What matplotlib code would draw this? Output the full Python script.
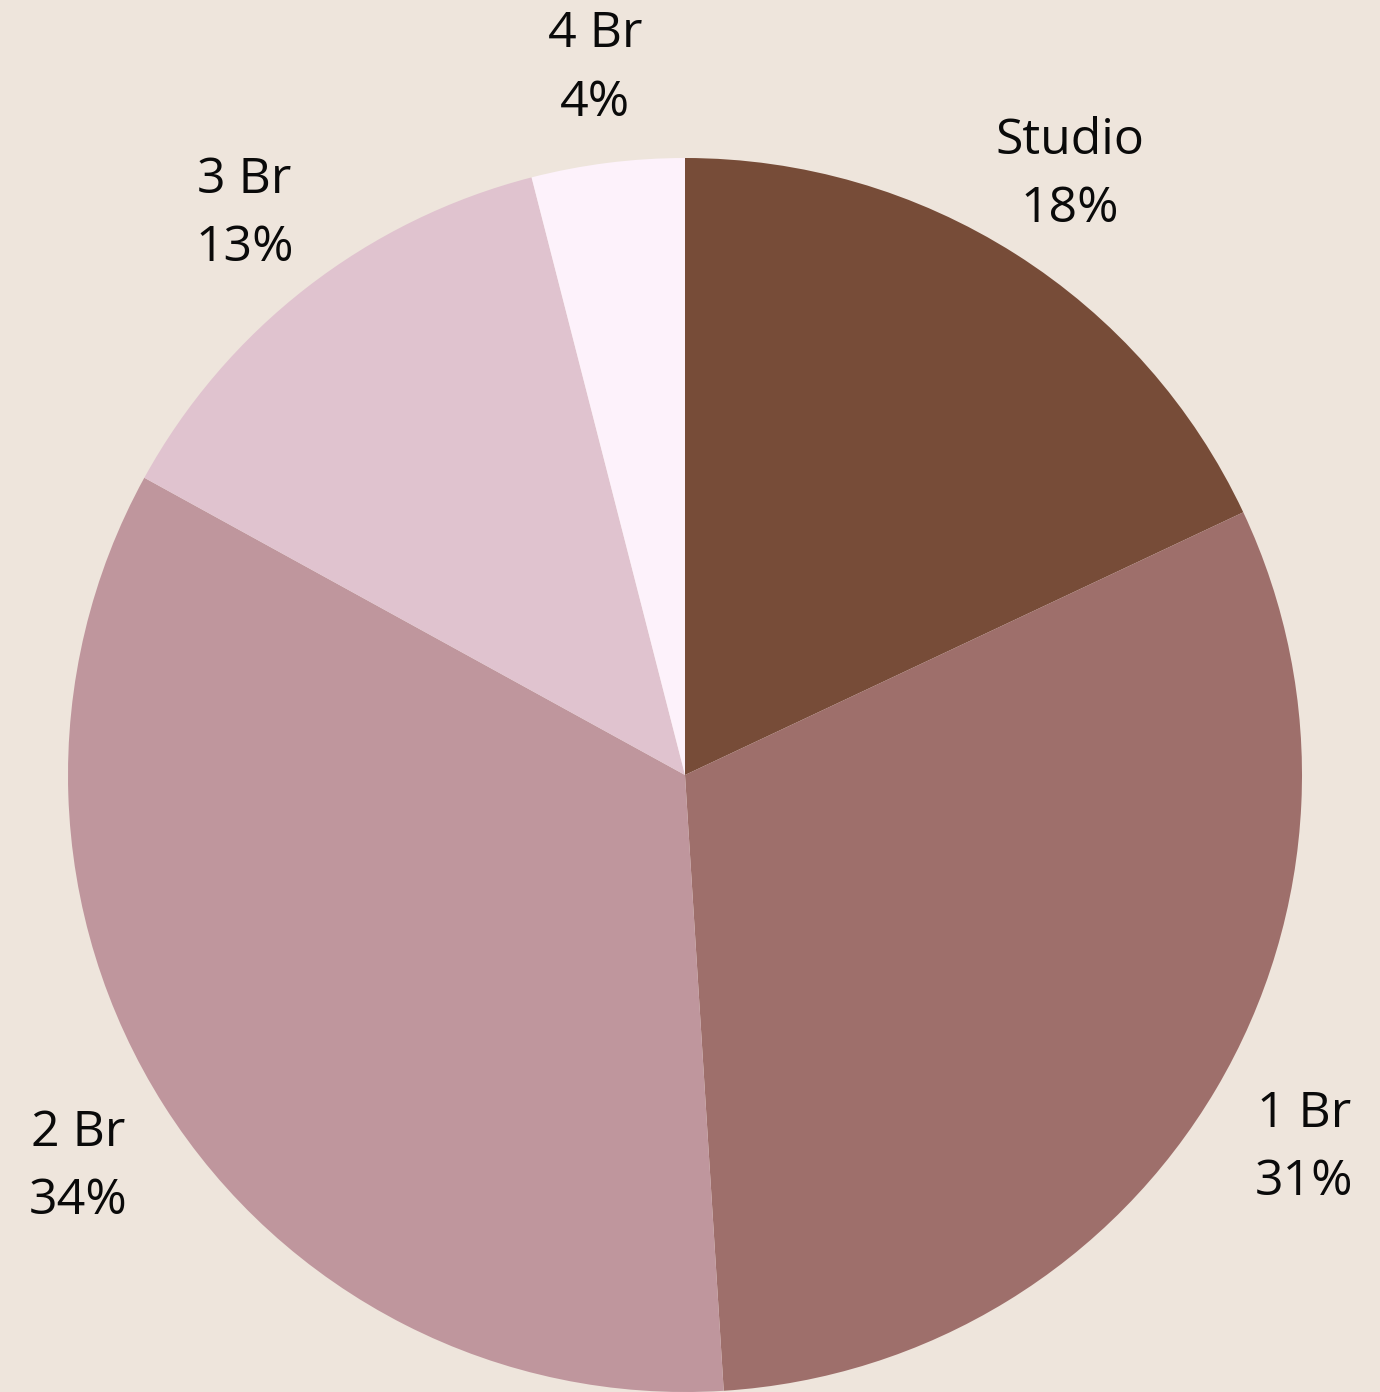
import matplotlib.pyplot as plt
from matplotlib.transforms import offset_copy

labels = ["Studio", "1 Br", "2 Br", "3 Br", "4 Br"]
shares = [18, 31, 34, 13, 4]
colors = ["#774C38", "#9E6F6B", "#BF969D", "#E0C3CF", "#FDF2FB"]
bg = "#EEE5DC"

plt.rcParams['font.family'] = ['Open Sans', 'DejaVu Sans']

W, H = 1380, 1392
fig = plt.figure(figsize=(W / 100, H / 100), dpi=100, facecolor=bg)
ax = fig.add_axes([0, 0, 1, 1])
ax.set_facecolor(bg)

# pie centre and radius in pixels
cx, cy, r = 685, 775, 617

texts = [f"{l}\n{s}%" for l, s in zip(labels, shares)]
wedges, txts = ax.pie(shares, labels=texts, colors=colors, startangle=90,
                      counterclock=False, labeldistance=1.165,
                      wedgeprops=dict(linewidth=0),
                      textprops=dict(fontsize=36, color="#0a0a0a",
                                     linespacing=1.5))
shift = offset_copy(ax.transData, fig=fig, x=0, y=-7, units="dots")
for t in txts:
    t.set_horizontalalignment("center")
    t.set_verticalalignment("center")
    t.set_transform(shift)

ax.set_aspect("auto")
ax.set_xlim(-cx / r, (W - cx) / r)
ax.set_ylim(-(H - cy) / r, cy / r)
ax.axis("off")

fig.savefig("out.png", dpi=100, facecolor=bg)
